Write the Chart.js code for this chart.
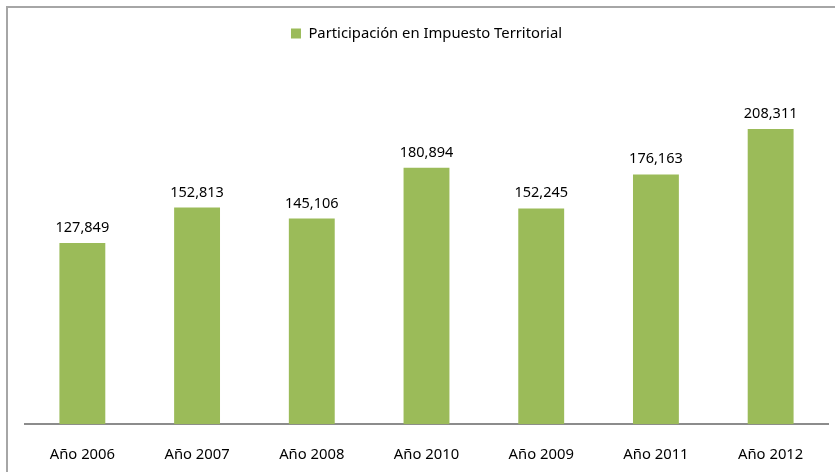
<!DOCTYPE html>
<html lang="es">
<head>
<meta charset="UTF-8">
<script src="https://cdn.jsdelivr.net/npm/chart.js"></script>
<style>
  html, body { margin: 0; padding: 0; background: #fff; overflow: hidden; }
  .wrap { position: relative; width: 835px; height: 472px; overflow: hidden; }
  .frame { position: absolute; left: 6px; top: 6px; width: 900px; height: 520px; border: 2px solid #a6a6a6; box-sizing: border-box; }
  canvas { position: absolute; left: 0; top: 0; }
</style>
</head>
<body>
<div class="wrap">
  <div class="frame"></div>
  <canvas id="chart" width="835" height="486"></canvas>
</div>
<script>
  const categories = ['Año 2006', 'Año 2007', 'Año 2008', 'Año 2010', 'Año 2009', 'Año 2011', 'Año 2012'];
  const values = [127849, 152813, 145106, 180894, 152245, 176163, 208311];
  const seriesName = 'Participación en Impuesto Territorial';

  const fontFamily = '"Noto Sans", "Open Sans", sans-serif';

  // writes the value above each bar, like Excel data labels
  const valueLabels = {
    id: 'valueLabels',
    afterDatasetsDraw(chart) {
      const ctx = chart.ctx;
      const meta = chart.getDatasetMeta(0);
      ctx.save();
      ctx.font = '14.5px ' + fontFamily;
      ctx.fillStyle = '#000';
      ctx.textAlign = 'center';
      ctx.textBaseline = 'alphabetic';
      meta.data.forEach((bar, i) => {
        ctx.fillText(values[i].toLocaleString('en-US'), bar.x, bar.y - 11);
      });
      ctx.restore();
    }
  };

  // extra room under the legend
  const legendGap = {
    id: 'legendGap',
    beforeInit(chart) {
      const fit = chart.legend.fit;
      chart.legend.fit = function () {
        fit.bind(chart.legend)();
        this.height += 19;
      };
    }
  };

  new Chart(document.getElementById('chart'), {
    type: 'bar',
    data: {
      labels: categories,
      datasets: [{
        label: seriesName,
        data: values,
        backgroundColor: '#9bbb59',
        borderWidth: 0,
        categoryPercentage: 1,
        barPercentage: 0.4
      }]
    },
    options: {
      responsive: false,
      animation: false,
      layout: { padding: { left: 25, right: 7, top: 16, bottom: 0 } },
      plugins: {
        legend: {
          position: 'top',
          labels: {
            boxWidth: 10,
            boxHeight: 10,
            color: '#000',
            font: { family: fontFamily, size: 14.8 },
            padding: 10
          }
        },
        tooltip: { enabled: false }
      },
      scales: {
        x: {
          grid: { display: false, drawTicks: false },
          border: { display: true, color: '#8c8c8c', width: 2 },
          ticks: { color: '#000', padding: 22, font: { family: fontFamily, size: 14.8 } }
        },
        y: {
          display: false,
          min: 0,
          max: 250000
        }
      }
    },
    plugins: [valueLabels, legendGap]
  });
</script>
</body>
</html>
